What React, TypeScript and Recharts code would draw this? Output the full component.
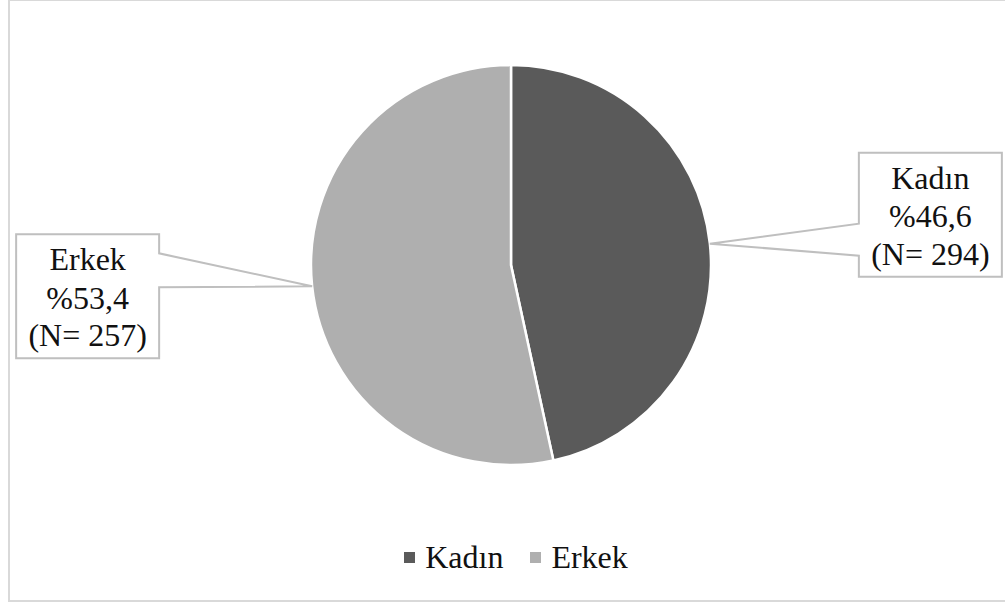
import React from "react";
import { PieChart, Pie, Cell, Legend } from "recharts";

const categories = ["Kadın", "Erkek"];
const percents = [46.6, 53.4];
const counts = [294, 257];
const colors = ["#5a5a5a", "#afafaf"];

const data = categories.map((name, i) => ({
  name,
  value: percents[i],
  n: counts[i],
  color: colors[i],
}));

const FONT = "'Liberation Serif', 'Times New Roman', serif";
const TEXT = "#111111";
const CALLOUT = "#bfbfbf";

const RADIAN = Math.PI / 180;

const renderLabel = (props: any) => {
  const { cx, cy, midAngle, outerRadius, index } = props;
  const d = data[index];
  const tx = cx + outerRadius * Math.cos(-midAngle * RADIAN);
  const ty = cy + outerRadius * Math.sin(-midAngle * RADIAN);
  const right = tx > cx;
  const bw = 143;
  const bh = 124;
  let left: number, top: number, a1: number, a2: number, edge: number;
  if (right) {
    left = tx + 149;
    top = ty - 91;
    edge = left;
    a1 = ty - 20;
    a2 = ty + 12;
  } else {
    left = tx - 153 - bw;
    top = ty - 52;
    edge = left + bw;
    a1 = ty - 33;
    a2 = ty + 1;
  }
  const pts = right
    ? [
        [tx, ty],
        [edge, a1],
        [edge, top],
        [left + bw, top],
        [left + bw, top + bh],
        [edge, top + bh],
        [edge, a2],
      ]
    : [
        [tx, ty],
        [edge, a2],
        [edge, top + bh],
        [left, top + bh],
        [left, top],
        [edge, top],
        [edge, a1],
      ];
  const mid = left + bw / 2;
  const pct = d.value.toFixed(1).replace(".", ",");
  return (
    <g key={`lab-${index}`}>
      <polygon
        points={pts.map((p) => p.join(",")).join(" ")}
        fill="#ffffff"
        stroke={CALLOUT}
        strokeWidth={2}
      />
      <text x={mid} y={top + 36} textAnchor="middle" fontFamily={FONT} fontSize={32} fill={TEXT}>
        {d.name}
      </text>
      <text x={mid} y={top + 74.5} textAnchor="middle" fontFamily={FONT} fontSize={32} fill={TEXT}>
        {`%${pct}`}
      </text>
      <text x={mid} y={top + 112} textAnchor="middle" fontFamily={FONT} fontSize={32} fill={TEXT}>
        {`(N= ${d.n})`}
      </text>
    </g>
  );
};

const renderLegend = () => (
  <div
    style={{
      display: "flex",
      justifyContent: "center",
      alignItems: "center",
      paddingLeft: 27,
      boxSizing: "border-box",
      width: 1005,
    }}
  >
    {data.map((d, i) => (
      <div
        key={d.name}
        style={{
          display: "flex",
          alignItems: "center",
          marginRight: i === 0 ? 27 : 0,
        }}
      >
        <div style={{ width: 11, height: 11, background: d.color, marginRight: 10 }} />
        <span
          style={{
            fontFamily: FONT,
            fontSize: 32,
            lineHeight: "36px",
            color: TEXT,
          }}
        >
          {d.name}
        </span>
      </div>
    ))}
  </div>
);

export default function App() {
  return (
    <div
      style={{
        position: "absolute",
        left: 0,
        top: 0,
        width: 1005,
        height: 604,
        background: "#ffffff",
        overflow: "hidden",
      }}
    >
      <div
        style={{
          position: "absolute",
          left: 8,
          top: -1,
          width: 1005,
          height: 603,
          boxSizing: "border-box",
          border: "2px solid #d9d9d9",
        }}
      />
      <div style={{ position: "absolute", left: 0, top: 0 }}>
        <PieChart width={1005} height={604} margin={{ top: 0, right: 0, bottom: 0, left: 0 }}>
          <Pie
            data={data}
            dataKey="value"
            nameKey="name"
            cx={511}
            cy={265}
            outerRadius={200}
            startAngle={90}
            endAngle={-270}
            stroke="#ffffff"
            strokeWidth={2.5}
            label={renderLabel}
            labelLine={false}
            isAnimationActive={false}
          >
            {data.map((d) => (
              <Cell key={d.name} fill={d.color} />
            ))}
          </Pie>
          <Legend
            content={renderLegend}
            wrapperStyle={{ position: "absolute", top: 539, left: 0, width: 1005 }}
          />
        </PieChart>
      </div>
    </div>
  );
}
